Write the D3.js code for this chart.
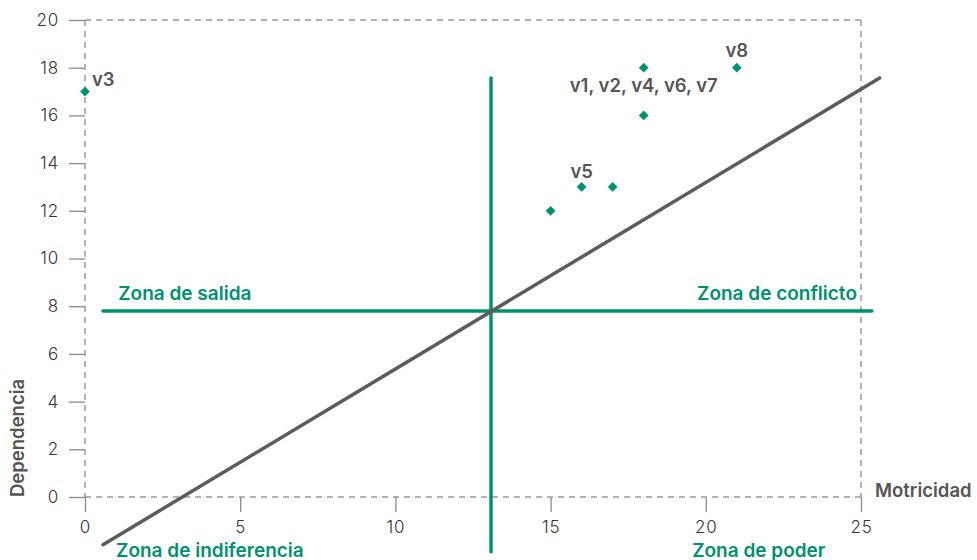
<!DOCTYPE html>
<html><head><meta charset="utf-8">
<script src="https://cdn.jsdelivr.net/npm/d3@7"></script>
<style>body{margin:0;background:#fff;font-family:"Inter","Lato","Open Sans",sans-serif;}</style>
</head><body><svg id="c" width="977" height="560"></svg>
<script>
const pointsX = [0, 18, 21, 18, 15, 16, 17];
const pointsY = [17, 18, 18, 16, 12, 13, 13];
const pointLabels = [
  {text:"v3", x:0, y:17, dx:7, dy:-6, anchor:"start"},
  {text:"v1, v2, v4, v6, v7", x:18, y:18, dx:0, dy:24, anchor:"middle"},
  {text:"v8", x:21, y:18, dx:0, dy:-11, anchor:"middle"},
  {text:"v5", x:16, y:13, dx:0, dy:-9, anchor:"middle"}
];
const xTicks = [0, 5, 10, 15, 20, 25];
const yTicks = [0, 2, 4, 6, 8, 10, 12, 14, 16, 18, 20];
const diagonal = [[0.58, -2.0], [25.6, 17.57]];
const vLine = [[13.08, 17.57], [13.08, -2.3]];
const hLine = [[0.58, 7.8], [25.35, 7.8]];
const zoneLabels = [
  {text:"Zona de salida", x:1.07, y:7.8, anchor:"start", dy:-11},
  {text:"Zona de conflicto", x:24.87, y:7.8, anchor:"end", dy:-11},
  {text:"Zona de indiferencia", x:1.0, y:-2.3, anchor:"start", dy:6},
  {text:"Zona de poder", x:19.56, y:-2.3, anchor:"start", dy:6}
];

const svg = d3.select("#c");
const x = d3.scaleLinear().domain([0,25]).range([85,861]);
const y = d3.scaleLinear().domain([0,20]).range([497,20]);
const green = "#00916e", gray = "#5c5c5c", dash = "#9a9a9a";

const xAxis = d3.axisBottom(x).tickValues(xTicks).tickSize(15).tickPadding(9);
const gx = svg.append("g").attr("transform","translate(0,497)").call(xAxis);
const yAxis = d3.axisLeft(y).tickValues(yTicks).tickSize(16).tickPadding(10);
const gy = svg.append("g").attr("transform","translate(85,0)").call(yAxis);
[gx,gy].forEach(g=>{
  g.select(".domain").remove();
  g.selectAll(".tick line").attr("stroke","#8a8a8a").attr("stroke-width",1.3);
  g.selectAll(".tick text").attr("fill","#333").style("font-size","17px").style("letter-spacing","0.8px").style("font-family","Inter, Lato, sans-serif").style("font-weight","300");
});

const frame = svg.append("g").attr("stroke",dash).attr("stroke-width",1.5).attr("stroke-dasharray","6,5").attr("fill","none");
frame.append("line").attr("x1",x(0)).attr("x2",x(25)).attr("y1",y(20)).attr("y2",y(20));
frame.append("line").attr("x1",x(0)).attr("x2",x(25)).attr("y1",y(0)).attr("y2",y(0));
frame.append("line").attr("x1",x(0)).attr("x2",x(0)).attr("y1",y(20)).attr("y2",y(0));
frame.append("line").attr("x1",x(25)).attr("x2",x(25)).attr("y1",y(20)).attr("y2",y(0));

const line = d3.line().x(d=>x(d[0])).y(d=>y(d[1]));
svg.append("path").attr("d",line(hLine)).attr("stroke",green).attr("stroke-width",3.5).attr("stroke-linecap","round").attr("fill","none");
svg.append("path").attr("d",line(vLine)).attr("stroke",green).attr("stroke-width",3.5).attr("stroke-linecap","round").attr("fill","none");
svg.append("path").attr("d",line(diagonal)).attr("stroke",gray).attr("stroke-width",3.5).attr("stroke-linecap","round").attr("fill","none");

const pts = pointsX.map((v,i)=>[v,pointsY[i]]);
svg.append("g").selectAll("path").data(pts).join("path")
  .attr("d", d3.symbol().type(d3.symbolDiamond2).size(60))
  .attr("transform", d=>`translate(${x(d[0])},${y(d[1])})`)
  .attr("fill", green);

svg.append("g").selectAll("text").data(pointLabels).join("text")
  .attr("x", d=>x(d.x)+d.dx).attr("y", d=>y(d.y)+d.dy)
  .attr("text-anchor", d=>d.anchor).attr("fill","#555")
  .style("font-size","18.5px").style("font-weight","600").text(d=>d.text);

svg.append("g").selectAll("text").data(zoneLabels).join("text")
  .attr("x", d=>x(d.x)).attr("y", d=>d.dy>0 ? 557 : y(d.y)+d.dy)
  .attr("text-anchor", d=>d.anchor)
  .attr("fill",green).style("font-size","19px").style("font-weight","600").text(d=>d.text);

svg.append("text").attr("x",875).attr("y",497).attr("fill","#555")
  .style("font-size","18.5px").style("font-weight","600").text("Motricidad");
svg.append("text").attr("transform","translate(24,497) rotate(-90)").attr("fill","#555")
  .style("font-size","18.5px").style("font-weight","600").text("Dependencia");
</script></body></html>
